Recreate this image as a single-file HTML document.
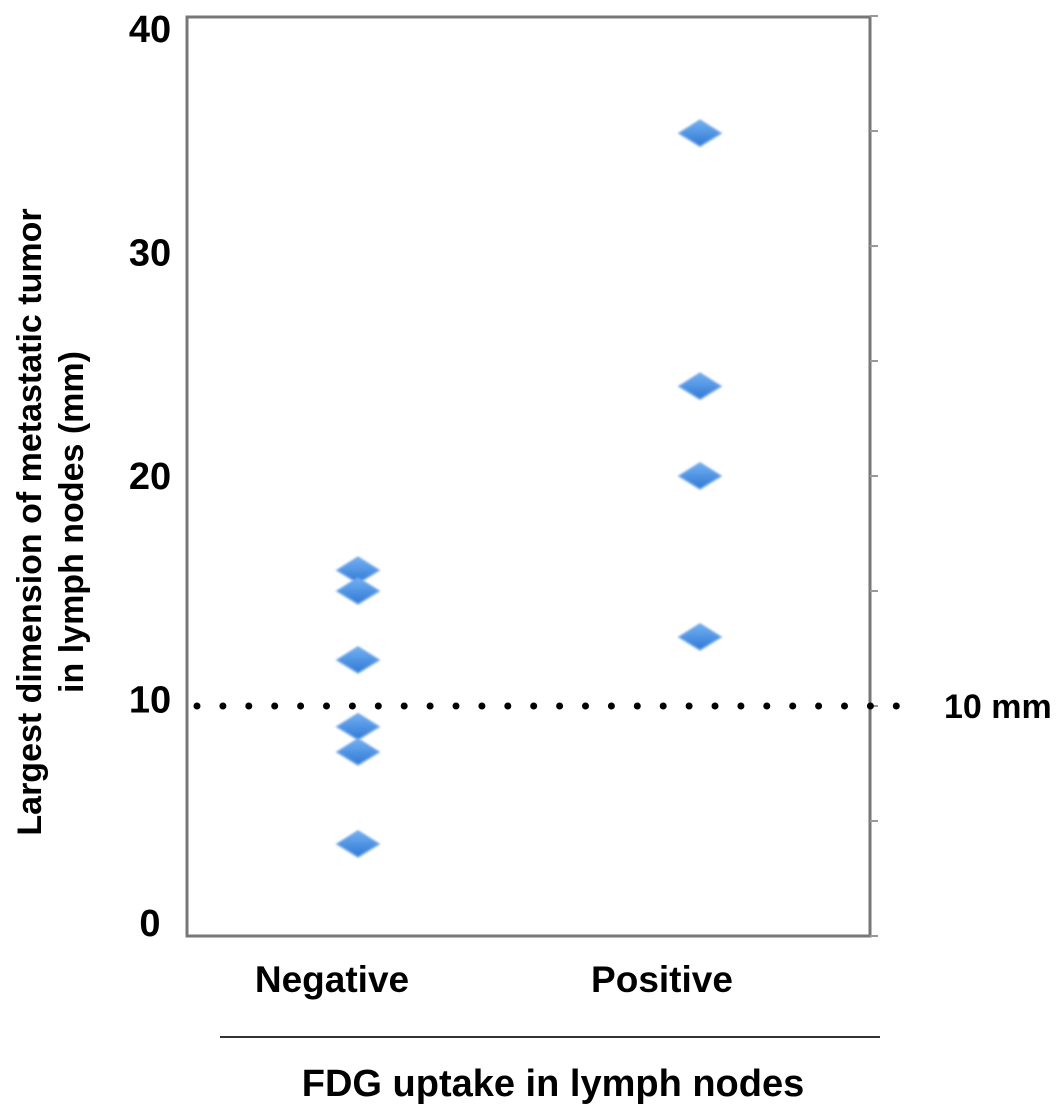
<!DOCTYPE html>
<html><head><meta charset="utf-8"><style>
body{margin:0;background:#fff;}
svg text{font-family:"Liberation Sans",Arial,sans-serif;font-weight:bold;fill:#000;}
</style></head><body>
<svg id="chart" width="1063" height="1114" viewBox="0 0 1063 1114" xmlns="http://www.w3.org/2000/svg">
<defs>
<linearGradient id="dg" x1="0" y1="0" x2="0" y2="1">
<stop offset="0" stop-color="#72b0f2"/><stop offset="1" stop-color="#2f78d4"/>
</linearGradient>
<filter id="blur"><feGaussianBlur stdDeviation="1"/></filter>
</defs>
<rect x="187" y="17" width="683" height="919" fill="none" stroke="#777" stroke-width="3"/>
<g id="ticks"></g>
<g id="ylabels"></g>
<g id="refline"></g>
<g id="points"></g>
<text x="944" y="718" font-size="34">10 mm</text>
<text x="332" y="992" font-size="37" text-anchor="middle">Negative</text>
<text x="662" y="992" font-size="37" text-anchor="middle">Positive</text>
<line x1="220" y1="1037" x2="880" y2="1037" stroke="#333" stroke-width="2"/>
<text x="553" y="1096" font-size="38" text-anchor="middle">FDG uptake in lymph nodes</text>
<g transform="translate(0,522) rotate(-90)">
<text x="0" y="41" font-size="34" text-anchor="middle">Largest dimension of metastatic tumor</text>
<text x="0" y="83" font-size="34" text-anchor="middle">in lymph nodes (mm)</text>
</g>
</svg>
<script>
const categories = ["Negative", "Positive"];
const negativeValues = [15.9, 15.0, 12.0, 9.1, 8.0, 4.0];
const positiveValues = [34.9, 23.9, 20.0, 13.0];
const yTicks = [0, 10, 20, 30, 40];
const yTickLabels = ["0", "10", "20", "30", "40"];
const minorTicks = [0, 5, 10, 15, 20, 25, 30, 35, 40];
const refValue = 10;

const NS = "http://www.w3.org/2000/svg";
function y(v){ return 936 - v * 23; }
function yLab(v){ return 936 - v * 22.35; }
function x(c){ return categories.indexOf(c) === 0 ? 358 : 700; }
function mk(tag, attrs, parent){ const e = document.createElementNS(NS, tag); for (const k in attrs) e.setAttribute(k, attrs[k]); parent.appendChild(e); return e; }

const tg = document.getElementById('ticks');
minorTicks.forEach(v => {
  const l = mk('line', {x1: 870, x2: 878, y1: y(v), y2: y(v), stroke: '#999', 'stroke-width': 2}, tg);
  
  
});
const yl = document.getElementById('ylabels');
yTicks.forEach((v, i) => {
  const t = mk('text', {x: 150, y: yLab(v), 'font-size': 38, 'text-anchor': 'middle'}, yl);
  t.textContent = yTickLabels[i];
  
  
});
const rl = document.getElementById('refline');
for (let px = 197; px <= 900; px += 25.9) {
  const c = mk('circle', {cx: px, cy: y(refValue), r: 3.5, fill: '#000'}, rl);
  
  
}
const pg = document.getElementById('points');
function diamond(cx, cy){
  const p = mk('polygon', {points: `${cx-21},${cy} ${cx},${cy-13} ${cx+21},${cy} ${cx},${cy+13}`, fill: 'url(#dg)', stroke: '#6fa6ea', 'stroke-width': 1.5, filter: 'url(#blur)'}, pg);
  
  
}
negativeValues.forEach(v => diamond(x("Negative"), y(v)));
positiveValues.forEach(v => diamond(x("Positive"), y(v)));
</script>
</body></html>
